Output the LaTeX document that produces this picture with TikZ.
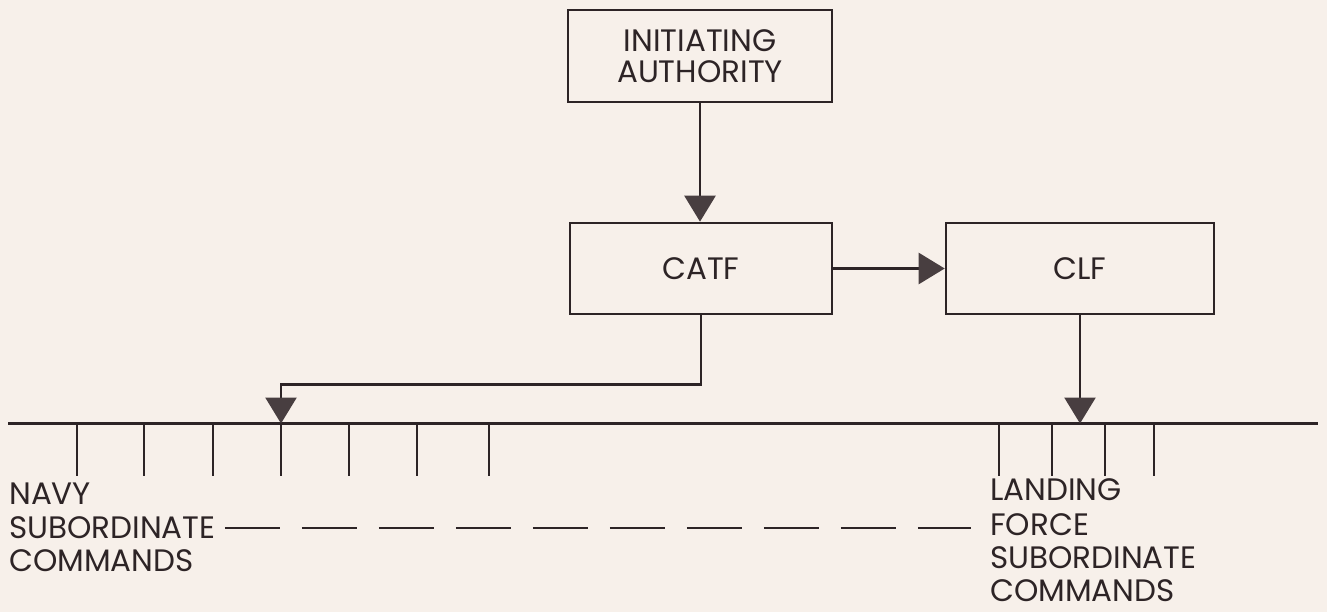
\documentclass[tikz,border=0pt]{standalone}
\usepackage{fontspec}
\setmainfont{Poppins}
\usetikzlibrary{arrows.meta}
\definecolor{paper}{RGB}{247,240,234}
\definecolor{ink}{RGB}{45,36,38}
\definecolor{tipc}{RGB}{72,62,64}
\begin{document}
\begin{tikzpicture}[x=1pt,y=-1pt,line width=2.6pt,color=ink,
  box/.style={draw, inner sep=0pt, align=center, font=\fontsize{31}{30.5}\selectfont},
  lbl/.style={inner sep=0pt, anchor=west, font=\fontsize{31}{31}\selectfont},
  arr/.style={-{Triangle[length=26pt,width=31pt,fill=tipc,color=tipc]}},
  dashline/.style={dash pattern=on 55pt off 22pt}]
\useasboundingbox[fill=paper] (0,0) rectangle (1327,612);
% boxes
\node[box, minimum width=264pt, minimum height=92pt] (ia) at (700,56) {INITIATING\\AUTHORITY};
\node[box, minimum width=262pt, minimum height=91pt] (catf) at (701,268.5) {CATF};
\node[box, minimum width=268pt, minimum height=91pt] (clf) at (1080,268.5) {CLF};
% bus line and ticks
\coordinate (busL) at (8,423.5);
\coordinate (busR) at (1318,423.5);
\draw (busL) -- (busR);
\foreach \x [count=\i] in {77,144,213,281,349,417,489,999,1052,1105,1154}{
  \coordinate (t\i) at (\x,423.5);
  \coordinate (tb\i) at (\x,475.5);
  \draw (t\i) -- (tb\i);
}
\coordinate (nbend) at (281,384.5);
\coordinate (lfin) at (1080,423.5);
% connectors
\draw[arr] (ia.south) -- (ia.south |- catf.north);
\draw[arr] (catf.east) -- (clf.west |- catf.east);
\draw[arr] (catf.south) |- (nbend) -- (t4);
\draw[arr] (clf.south) -- (lfin);
% labels
\node[lbl] (nav1) at (8,494) {NAVY};
\node[lbl] (nav2) at (8,528) {SUBORDINATE};
\node[lbl] (nav3) at (8,561) {COMMANDS};
\node[lbl] (lf1) at (989,490) {LANDING};
\node[lbl] (lf2) at (989,524.5) {FORCE};
\node[lbl] (lf3) at (989,558) {SUBORDINATE};
\node[lbl] (lf4) at (989,591) {COMMANDS};
\draw[dashline] ([xshift=8pt]nav2.east) -- ([xshift=-18pt]lf2.west |- nav2.east);
\end{tikzpicture}
\end{document}
